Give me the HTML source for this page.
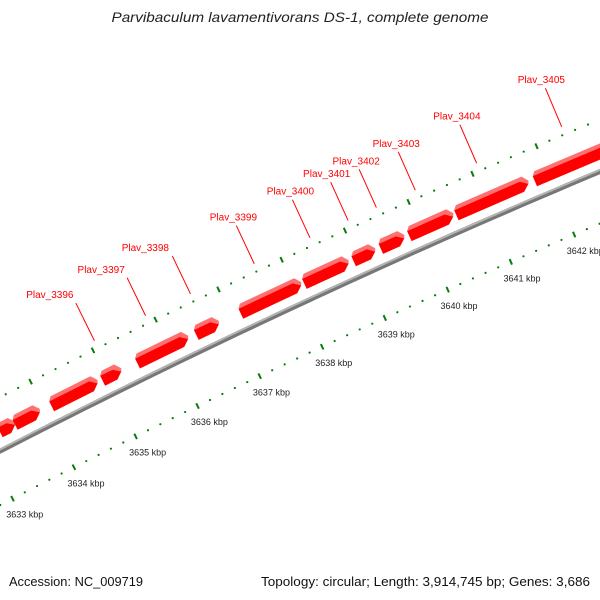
<!DOCTYPE html>
<html><head><meta charset="utf-8"><style>
html,body{margin:0;padding:0;background:#fff;}
svg{display:block;font-family:"Liberation Sans","DejaVu Sans",sans-serif;}
</style></head><body>
<svg id="map" width="600" height="600" viewBox="0 0 600 600">
<text x="300" y="22" text-anchor="middle" font-size="14" font-style="italic" fill="#222" textLength="377" lengthAdjust="spacingAndGlyphs">Parvibaculum lavamentivorans DS-1, complete genome</text>
<g id="ticks"></g>
<g id="backbone"></g>
<g id="genes"></g>
<g id="labels"></g>
<text x="9" y="586" font-size="13" fill="#111" textLength="134" lengthAdjust="spacingAndGlyphs">Accession: NC_009719</text>
<text x="261" y="586" font-size="13" fill="#111" textLength="329" lengthAdjust="spacingAndGlyphs">Topology: circular; Length: 3,914,745 bp; Genes: 3,686</text>
</svg>
<script>
const geneStarts=[3633.28,3633.52,3634.11,3634.93,3635.49,3636.43,3637.14,3638.15,3638.93,3639.36,3639.81,3640.55,3641.78];
const geneEnds=[3633.52,3633.92,3634.85,3635.23,3636.30,3636.79,3638.10,3638.85,3639.27,3639.73,3640.50,3641.68,3643.10];
const geneNames=["","","","Plav_3396","Plav_3397","Plav_3398","Plav_3399","Plav_3400","Plav_3401","Plav_3402","Plav_3403","Plav_3404","Plav_3405"];
const labelDx=[0,0,0,-26,-26,-27,-3,-2,-4,-3,-2,-3,-4];
const tickKbp=[3632,3633,3634,3635,3636,3637,3638,3639,3640,3641,3642,3643];

const NS="http://www.w3.org/2000/svg";
const s0=3633,P0=[-9.5,456],th0=0.4765,dth=0.0082,R=8460;
const C=[P0[0]+R*Math.sin(th0),P0[1]+R*Math.cos(th0)];
function P(s,r){const t=th0-(s-s0)*dth;return [C[0]-(R+r)*Math.sin(t),C[1]-(R+r)*Math.cos(t)];}
function mk(tag,attrs,parent){const e=document.createElementNS(NS,tag);for(const k in attrs)e.setAttribute(k,attrs[k]);parent.appendChild(e);return e;}
function pts(a){return a.map(p=>p[0].toFixed(1)+","+p[1].toFixed(1)).join(" ");}

const bb=document.getElementById('backbone');
let arr=[],arr2=[];
for(let s=3632.5;s<=3643.5;s+=0.25){arr.push(P(s,0));arr2.push(P(s,1.5));}
let l1=mk('polyline',{points:pts(arr),fill:'none',stroke:'#777',"stroke-width":5},bb);


let l2=mk('polyline',{points:pts(arr2),fill:'none',stroke:'#b4b4b4',"stroke-width":2},bb);



const tg=document.getElementById('ticks');
for(const r of [-48,48]){
  for(let k=0;k<tickKbp.length-1;k++){
    for(let j=0;j<5;j++){
      const s=tickKbp[k]+j*0.2;
      if(j===0){
        const a=P(s,r-3),b=P(s,r+3);
        const ln=mk('line',{x1:a[0],y1:a[1],x2:b[0],y2:b[1],stroke:'#0a7a0a',"stroke-width":2},tg);
        
        
      }else{
        const a=P(s,r);
        const d=mk('circle',{cx:a[0],cy:a[1],r:1.1,fill:'#0a7a0a'},tg);
        
        
      }
    }
  }
}
for(const k of tickKbp){
  const a=P(k,-66);
  const t=mk('text',{x:a[0]+4,y:a[1]+3,"font-size":9,"text-anchor":"middle",fill:'#222'},tg);
  t.textContent=k+" kbp";
  
  
}

const gg=document.getElementById('genes'),lg=document.getElementById('labels');
const rlo=11,rhi=22,rtop=26,ah=0.1;
for(let i=0;i<geneStarts.length;i++){
  const s1=geneStarts[i],s2=geneEnds[i],sa=Math.max(s1,s2-ah);
  const top=mk('polygon',{points:pts([P(s1,rhi),P(sa,rhi),P(s2,(rlo+rhi)/2),P(s2+0.02,(rlo+rhi)/2+3),P(sa+0.05,rtop),P(s1+0.05,rtop)]),fill:'#ff7070'},gg);
  
  
  const fr=mk('polygon',{points:pts([P(s1,rlo),P(sa,rlo),P(s2,(rlo+rhi)/2),P(sa,rhi),P(s1,rhi)]),fill:'#f00'},gg);
  
  
  if(geneNames[i]){
    const m=(s1+s2)/2,a=P(m,56),b=P(m,98);
    const ln=mk('line',{x1:a[0],y1:a[1],x2:b[0],y2:b[1],stroke:'#f00',"stroke-width":1},lg);
    
    
    const t=mk('text',{x:b[0]+labelDx[i],y:b[1]-5,"font-size":10,"text-anchor":"middle",fill:'#f00'},lg);
    t.textContent=geneNames[i];
    
    
  }
}
</script>
</body></html>
